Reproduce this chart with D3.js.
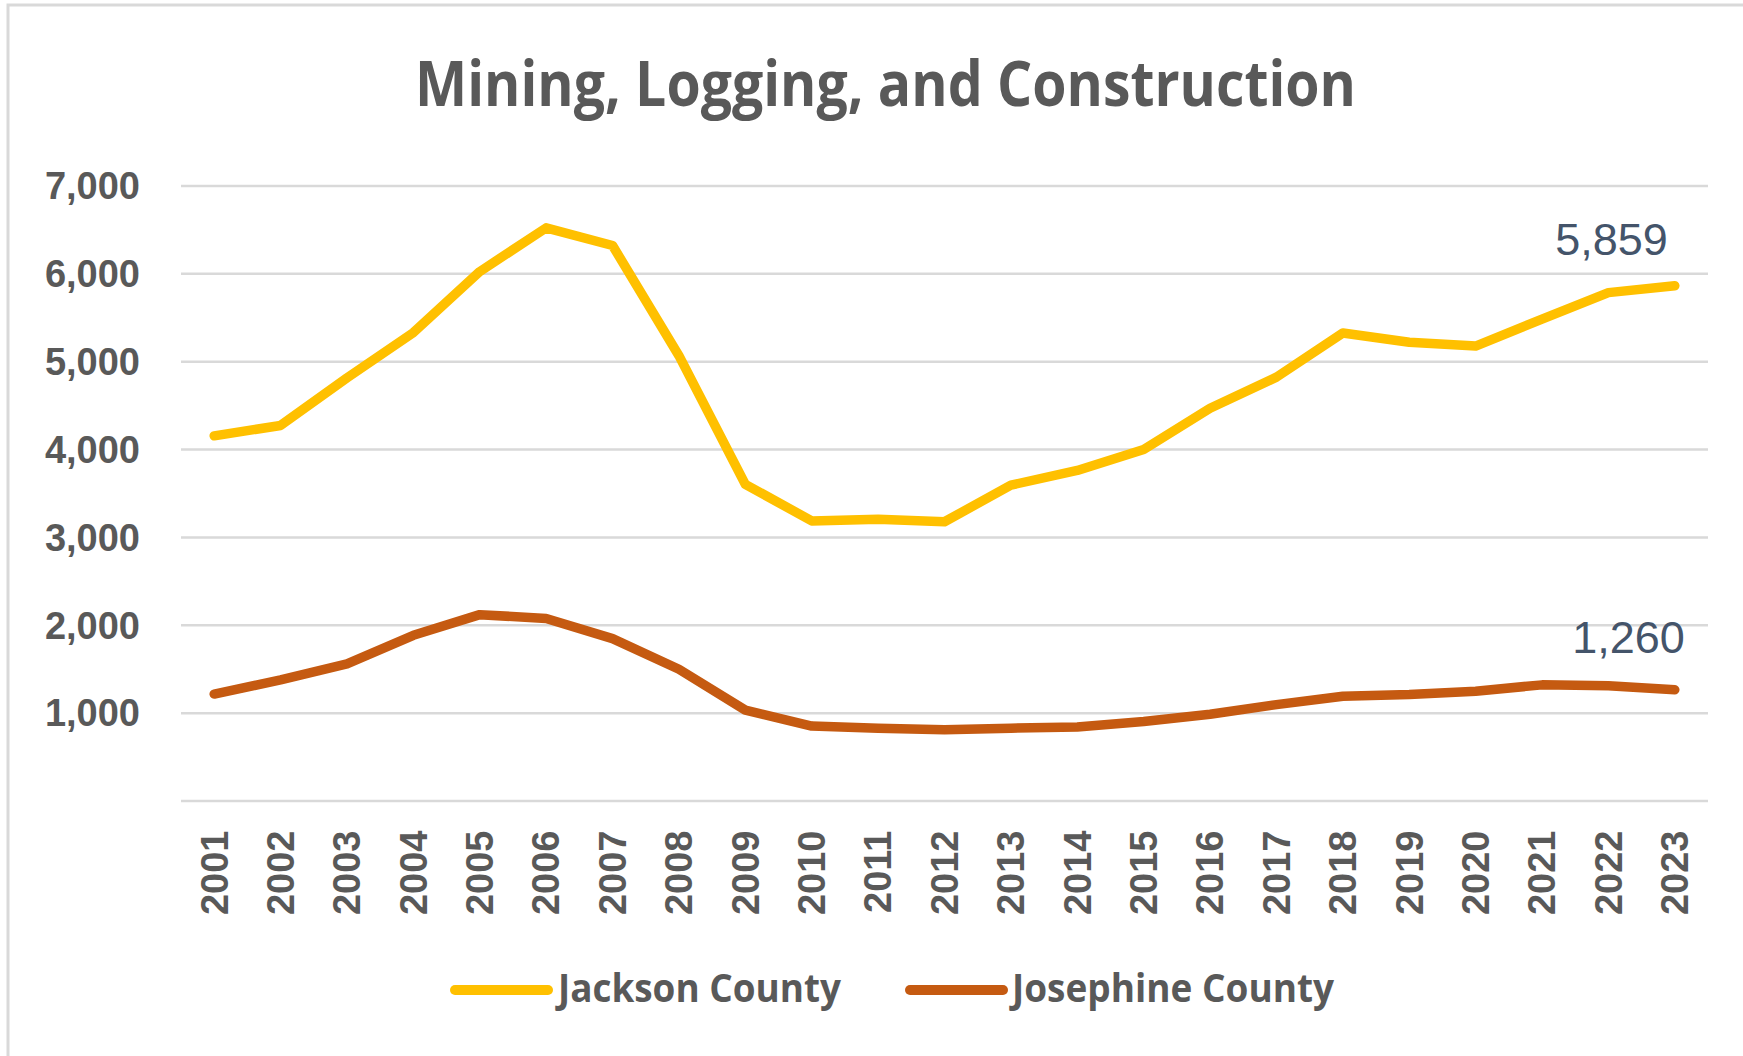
<!DOCTYPE html>
<html>
<head>
<meta charset="utf-8">
<script src="https://cdn.jsdelivr.net/npm/d3@7"></script>
<style>
  html, body { margin: 0; padding: 0; background: #fff; }
  svg { display: block; }
</style>
</head>
<body>
<svg id="chart" width="1743" height="1056"></svg>
<script>
const years = ["2001","2002","2003","2004","2005","2006","2007","2008","2009","2010","2011","2012","2013","2014","2015","2016","2017","2018","2019","2020","2021","2022","2023"];
const jackson = [4150,4268,4809,5325,6019,6517,6316,5062,3598,3182,3201,3172,3589,3756,3995,4464,4818,5321,5215,5172,5478,5780,5859];
const josephine = [1211,1373,1555,1880,2115,2072,1842,1493,1029,847,823,804,823,837,900,981,1091,1187,1206,1244,1316,1306,1260];
const yTicks = [0,1000,2000,3000,4000,5000,6000,7000];
const seriesNames = ["Jackson County","Josephine County"];
const seriesColors = ["#FFC000","#C55A11"];
const titleText = "Mining, Logging, and Construction";

(function () {
const svg = d3.select("#chart");
const textColor = "#595959";

// chart border
svg.append("rect").attr("x", 8).attr("y", 5).attr("width", 1800).attr("height", 1100)
  .attr("fill", "#fff").attr("stroke", "#d9d9d9").attr("stroke-width", 3);

const pLeft = 181, pRight = 1708, pTop = 185.4, pBottom = 800.5;
const x = d3.scaleBand().domain(years).range([pLeft, pRight]).padding(0);
const xc = d => x(d) + x.bandwidth() / 2;
const y = d3.scaleLinear().domain([0, 7000]).range([pBottom, pTop]);

// title
svg.append("text").attr("x", 885.5).attr("y", 106)
  .attr("text-anchor", "middle")
  .attr("font-family", "'Open Sans', sans-serif").attr("font-weight", 700)
  .attr("font-size", 62).attr("fill", textColor)
  .attr("textLength", 941).attr("lengthAdjust", "spacingAndGlyphs")
  .text(titleText);

// y axis with gridlines
const yAxis = d3.axisLeft(y).tickValues(yTicks).tickSize(-(pRight - pLeft))
  .tickPadding(pLeft - 140).tickFormat(d => d === 0 ? "" : d3.format(",")(d));
const yg = svg.append("g").attr("transform", `translate(${pLeft},0)`).call(yAxis);
yg.select(".domain").remove();
yg.selectAll(".tick line").attr("stroke", "#d9d9d9").attr("stroke-width", 2.5);
yg.selectAll(".tick text").attr("fill", textColor)
  .attr("font-family", "'Liberation Sans', Arial, sans-serif").attr("font-weight", 700)
  .attr("font-size", 38).attr("dy", "0.35em");

// x axis labels
const xAxis = d3.axisBottom(x).tickSize(0).tickPadding(0);
const xg = svg.append("g").attr("transform", `translate(0,${pBottom})`).call(xAxis);
xg.select(".domain").remove();
xg.selectAll(".tick text")
  .attr("fill", textColor)
  .attr("font-family", "'Liberation Sans', Arial, sans-serif").attr("font-weight", 700)
  .attr("font-size", 38)
  .attr("text-anchor", "end")
  .attr("transform", "translate(0,30) rotate(-90)")
  .attr("x", 0).attr("y", 0).attr("dy", "0.35em");

// lines
const line = d3.line().x((d, i) => xc(years[i])).y(d => y(d));
[jackson, josephine].forEach((vals, k) => {
  svg.append("path").datum(vals)
    .attr("fill", "none").attr("stroke", seriesColors[k])
    .attr("stroke-width", 9.5).attr("stroke-linejoin", "round").attr("stroke-linecap", "round")
    .attr("d", line);
});

// end data labels
const last = years.length - 1;
const labelOffsets = [[-7, -31], [10, -37]];
[jackson, josephine].forEach((vals, k) => {
  svg.append("text")
    .attr("x", xc(years[last]) + labelOffsets[k][0])
    .attr("y", y(vals[last]) + labelOffsets[k][1])
    .attr("text-anchor", "end")
    .attr("font-family", "'Liberation Sans', Arial, sans-serif")
    .attr("font-size", 45).attr("fill", "#44546A")
    .text(d3.format(",")(vals[last]));
});

// legend
const legendItems = [
  { sx: 450, tx: 558, len: 283 },
  { sx: 905, tx: 1012, len: 322 }
];
legendItems.forEach((it, k) => {
  svg.append("line").attr("x1", it.sx + 5).attr("x2", it.sx + 98)
    .attr("y1", 990).attr("y2", 990)
    .attr("stroke", seriesColors[k]).attr("stroke-width", 10).attr("stroke-linecap", "round");
  svg.append("text").attr("x", it.tx).attr("y", 1002)
    .attr("font-family", "'Open Sans', sans-serif").attr("font-weight", 700)
    .attr("font-size", 40).attr("fill", textColor)
    .attr("textLength", it.len).attr("lengthAdjust", "spacingAndGlyphs")
    .text(seriesNames[k]);
});
})();
</script>
</body>
</html>
